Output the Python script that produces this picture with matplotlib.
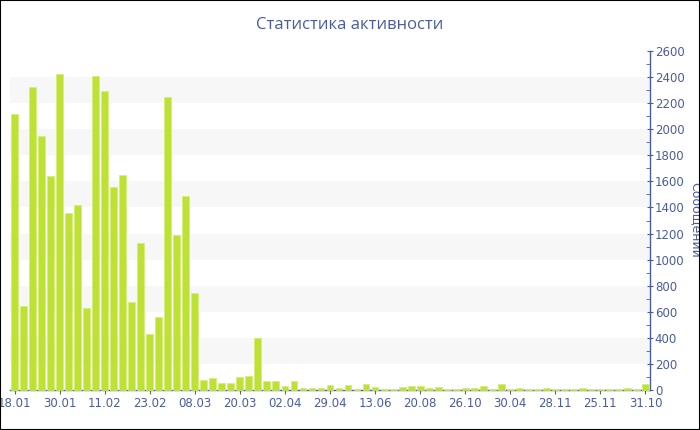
import numpy as np
import matplotlib
matplotlib.use("Agg")
import matplotlib.pyplot as plt
from matplotlib.patches import Rectangle
from matplotlib.ticker import MultipleLocator

title = "Статистика активности"
y_label = "Сообщений"
tick_labels = ["18.01", "30.01", "11.02", "23.02", "08.03", "20.03", "02.04",
               "29.04", "13.06", "20.08", "26.10", "30.04", "28.11", "25.11", "31.10"]
values = [2115, 642, 2324, 1947, 1638, 2426, 1361, 1422, 627, 2406,
          2291, 1557, 1649, 673, 1124, 433, 561, 2250, 1188, 1486,
          747, 77, 92, 51, 56, 97, 110, 399, 69, 69,
          28, 71, 18, 18, 15, 35, 16, 42, 10, 43,
          20, 10, 10, 21, 31, 31, 14, 20, 10, 10,
          12, 12, 31, 7, 43, 10, 15, 10, 10, 13,
          10, 10, 10, 13, 10, 10, 10, 10, 13, 10, 43]
label_step = 5

blue = "#4a5c9e"
bar_color = "#bde233"

fig = plt.figure(figsize=(7, 4.3), dpi=100)
ax = fig.add_axes([10/700, 40/430, 640/700, 339/430])

x = np.arange(len(values))
ax.set_xlim(-0.5, len(values) - 0.5)
ax.set_ylim(0, 2600)

for lo in range(200, 2600, 400):
    ax.axhspan(lo, lo + 200, color="#f7f7f7", zorder=0, lw=0)

ax.bar(x, values, width=0.76, color=bar_color, edgecolor="#d4ec7a", linewidth=0.5,
       zorder=3, clip_on=False)

ax.yaxis.tick_right()
ax.yaxis.set_label_position("right")
ax.yaxis.set_major_locator(MultipleLocator(200))
ax.yaxis.set_minor_locator(MultipleLocator(100))
ax.tick_params(axis="y", which="major", direction="inout", length=5, color=blue,
               labelcolor=blue, labelsize=8.5, pad=1)
ax.tick_params(axis="y", which="minor", direction="in", length=3, color=blue)

ax.set_xticks(x[::label_step])
ax.set_xticklabels(tick_labels)
ax.tick_params(axis="x", direction="out", length=3, color="#666666",
               labelcolor=blue, labelsize=8.5, pad=2)

for s in ["top", "left"]:
    ax.spines[s].set_visible(False)
for s in ["bottom", "right"]:
    ax.spines[s].set_color(blue)
    ax.spines[s].set_linewidth(1)
    ax.spines[s].set_zorder(2.5)

fig.text(0.5, 1 - 25/430, title, ha="center", va="center", fontsize=12,
         color=blue, family=["Open Sans", "DejaVu Sans"])
fig.text(695/700, 1 - 220/430, y_label, ha="center", va="center", rotation=270,
         fontsize=9, color=blue)

fig.patches.append(Rectangle((0, 0), 1, 1, transform=fig.transFigure, fill=False,
                             edgecolor="black", linewidth=1.5, zorder=10))

fig.savefig("out.png", dpi=100)
